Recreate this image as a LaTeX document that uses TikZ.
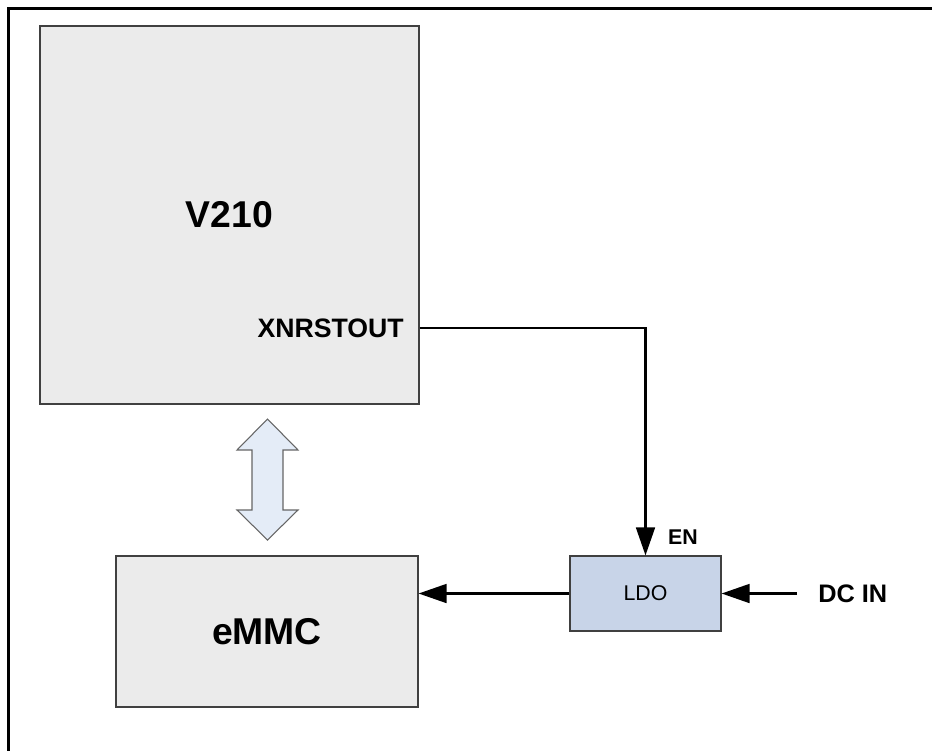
\documentclass[tikz,border=0pt]{standalone}
\usepackage{fontspec}
\setmainfont{Liberation Sans}
\usepackage{tikz}
\usetikzlibrary{arrows.meta, positioning}

\definecolor{chipgray}{HTML}{EBEBEB}
\definecolor{ldoblue}{HTML}{C8D4E8}
\definecolor{busblue}{HTML}{E4ECF7}
\definecolor{edgegray}{HTML}{404040}

\tikzset{
    chip/.style={draw=edgegray, fill=chipgray, line width=0.8pt, inner sep=0pt},
    ldobox/.style={draw=edgegray, fill=ldoblue, line width=0.8pt, inner sep=0pt},
    sig/.style={line width=2pt, -{Triangle[length=21pt, width=14pt]}},
    pinlabel/.style={inner sep=0pt, font=\bfseries\fontsize{20}{24}\selectfont}
}

\begin{document}
\begin{tikzpicture}[x=0.75pt, y=-0.75pt]
    \useasboundingbox (0,0) rectangle (932,751);

    % outer frame (only top and left edges are on the sheet)
    \draw[line width=2.2pt] (932,8.5) -- (8.5,8.5) -- (8.5,751);

    % blocks
    \node[chip, minimum width=284.25pt, minimum height=283.5pt] (v210) at (229.5,215)
        {\bfseries\fontsize{28}{32}\selectfont V210};
    \node[chip, minimum width=226.5pt, minimum height=113.25pt] (emmc) at (267,631.5)
        {\bfseries\fontsize{28}{32}\selectfont eMMC};
    \node[ldobox, minimum width=113.25pt, minimum height=56.25pt] (ldo) at (645.5,593.5)
        {\fontsize{16}{19}\selectfont LDO};

    % pin and port labels
    \node[pinlabel, anchor=east] (xnrst) at (404,328) {XNRSTOUT};
    \node[pinlabel, font=\bfseries\fontsize{16}{19}\selectfont] (en) at (683,537) {EN};
    \node[pinlabel, font=\bfseries\fontsize{19}{23}\selectfont, anchor=west] (dcin) at (818,593.5) {DC IN};
    \coordinate (dcsrc) at (797,593.5);

    % connections
    \draw[sig] (v210.east |- xnrst.east) -| (ldo.north);
    \draw[sig] (dcsrc) -- (ldo.east);
    \draw[sig] (ldo.west) -- (emmc.east |- ldo.west);

    % bus between V210 and eMMC
    \draw[draw=gray!80!black, fill=busblue, line width=0.8pt]
        (267.5,419) -- (298,450) -- (283,450) -- (283,510) -- (298,510)
        -- (267.5,540) -- (237,510) -- (252,510) -- (252,450) -- (237,450) -- cycle;
\end{tikzpicture}
\end{document}
